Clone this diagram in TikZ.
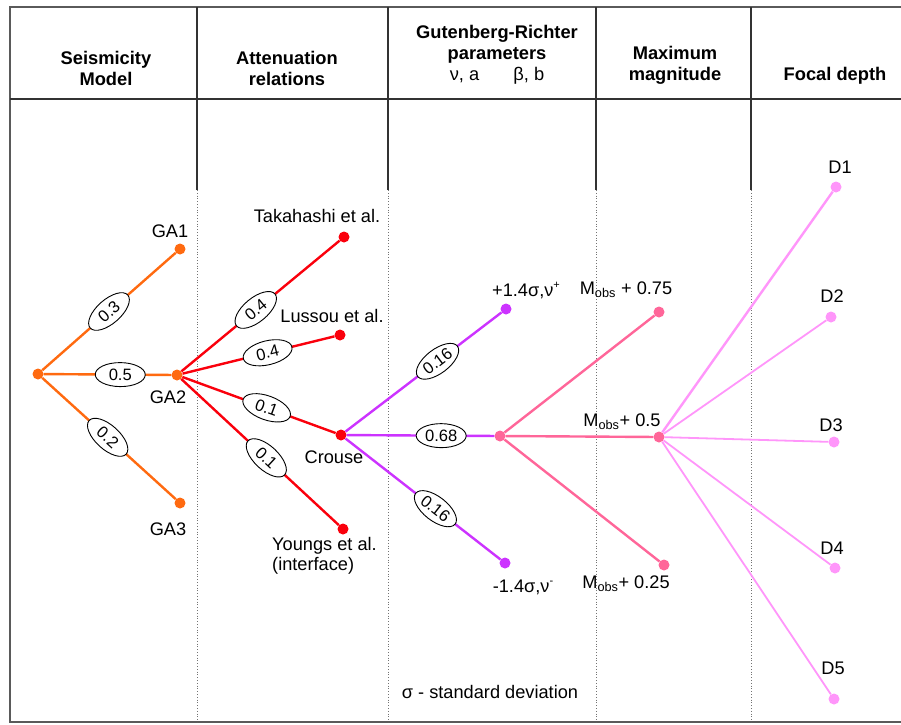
\documentclass[tikz,border=0pt]{standalone}
\usepackage{fontspec}
\setmainfont{Liberation Sans}
\usetikzlibrary{shapes.geometric, positioning}

\definecolor{cOrange}{RGB}{255, 106, 16}
\definecolor{cRed}{RGB}{250, 0, 12}
\definecolor{cPurple}{RGB}{204, 51, 255}
\definecolor{cPink}{RGB}{255, 102, 153}
\definecolor{cLight}{RGB}{255, 150, 250}
\definecolor{cFrame}{RGB}{90, 90, 90}
\definecolor{cGrid}{RGB}{50, 50, 50}

\newcommand{\supmark}[1]{\raisebox{8pt}{\fontsize{11}{11}\selectfont #1}}

\tikzset{
    % --- frame and columns ---
    frameLine/.style={draw=cFrame, line width=1.6pt},
    colLine/.style={draw=cGrid, line width=1.1pt},
    colDotted/.style={draw=black!55, line width=0.8pt, dash pattern=on 0.8pt off 2pt},
    styleHead/.style={align=center, inner sep=0pt, font=\fontsize{18.3}{21}\selectfont\bfseries},
    % --- tree ---
    styleDot/.style={circle, inner sep=0pt, minimum size=11pt},
    styleLabel/.style={inner sep=0pt, font=\fontsize{18.2}{20}\selectfont},
    styleProb/.style={
        ellipse, draw=black, fill=white, line width=0.9pt, inner sep=0pt,
        minimum width=50pt, minimum height=24pt,
        font=\fontsize{16.5}{17}\selectfont
    },
    conn/.style={line width=2.4pt},
    connThin/.style={line width=1.8pt}
}

\begin{document}
\begin{tikzpicture}[x=1pt, y=-1pt]
    \useasboundingbox (0,0) rectangle (901,724);

    % =========================================================
    % frame and column headers
    % =========================================================
    \draw[frameLine] (901,7) -- (10,7) -- (10,722) -- (901,722);
    \draw[colLine] (10,99) -- (901,99);
    \foreach \x in {197, 388, 596, 751} {
        \draw[colLine] (\x,7) -- (\x,190);
        \draw[colDotted] (\x,190) -- (\x,722);
    }

    \node[styleHead] (headSeis) at (106,68) {Seismicity\\Model};
    \node[styleHead] (headAtt) at (287,68) {Attenuation\\relations};
    \node[styleHead] (headGR) at (497,55) {Gutenberg-Richter\\parameters\\{\mdseries ν, a\hspace{34pt}β, b}};
    \node[styleHead] (headMax) at (675,65) {Maximum\\magnitude};
    \node[styleHead] (headFocal) at (835,76) {Focal depth};

    % =========================================================
    % tree nodes
    % =========================================================
    \node[styleDot, fill=cOrange] (root) at (38,374) {};
    \node[styleDot, fill=cOrange] (ga1) at (180,249) {};
    \node[styleDot, fill=cOrange] (ga2) at (177,375) {};
    \node[styleDot, fill=cOrange] (ga3) at (180,503) {};

    \node[styleDot, fill=cRed] (tak) at (344,237) {};
    \node[styleDot, fill=cRed] (lus) at (340,335) {};
    \node[styleDot, fill=cRed] (crouse) at (341,435) {};
    \node[styleDot, fill=cRed] (youngs) at (343,529) {};

    \node[styleDot, fill=cPurple] (grPlus) at (506,309) {};
    \node[styleDot, fill=cPink] (grMid) at (500,436) {};
    \node[styleDot, fill=cPurple] (grMinus) at (505,563) {};

    \node[styleDot, fill=cPink] (mag75) at (659,312) {};
    \node[styleDot, fill=cPink] (mag50) at (659,437) {};
    \node[styleDot, fill=cPink] (mag25) at (664,565) {};

    \node[styleDot, fill=cLight] (d1) at (836,187) {};
    \node[styleDot, fill=cLight] (d2) at (831,317) {};
    \node[styleDot, fill=cLight] (d3) at (834,442) {};
    \node[styleDot, fill=cLight] (d4) at (835,568) {};
    \node[styleDot, fill=cLight] (d5) at (834,699) {};

    % labels
    \node[styleLabel] (labGA1) at (170,231) {GA1};
    \node[styleLabel] (labGA2) at (168,397) {GA2};
    \node[styleLabel] (labGA3) at (168,529) {GA3};
    \node[styleLabel] (labTak) at (317,216) {Takahashi et al.};
    \node[styleLabel] (labLus) at (332,316) {Lussou et al.};
    \node[styleLabel] (labCrouse) at (334,457) {Crouse};
    \node[styleLabel, align=left, anchor=west] (labYoungs) at (272,556) {Youngs et al.\\(interface)};
    \node[styleLabel, anchor=base] (labPlus) at (526,296) {+1.4σ,ν\supmark{+}};
    \node[styleLabel, anchor=base] (labMinus) at (523,592) {-1.4σ,ν\supmark{-}};
    \node[styleLabel] (labM75) at (626,290) {M\textsubscript{obs} + 0.75};
    \node[styleLabel] (labM50) at (622,422) {M\textsubscript{obs}+ 0.5};
    \node[styleLabel] (labM25) at (626,584) {M\textsubscript{obs}+ 0.25};
    \node[styleLabel] (labD1) at (840,167) {D1};
    \node[styleLabel] (labD2) at (832,296) {D2};
    \node[styleLabel] (labD3) at (831,425) {D3};
    \node[styleLabel] (labD4) at (832,548) {D4};
    \node[styleLabel] (labD5) at (833,668) {D5};
    \node[styleLabel] (sigmaNote) at (490,692) {σ - standard deviation};

    % =========================================================
    % branches
    % =========================================================
    \draw[conn, draw=cOrange] (root) -- node[styleProb, sloped, pos=0.5] {0.3} (ga1);
    \draw[conn, draw=cOrange] (root) -- node[styleProb, sloped, pos=0.6] {0.5} (ga2);
    \draw[conn, draw=cOrange] (root) -- node[styleProb, sloped, pos=0.49] {0.2} (ga3);

    \draw[conn, draw=cRed] (ga2) -- node[styleProb, sloped, pos=0.47] {0.4} (tak);
    \draw[conn, draw=cRed] (ga2) -- node[styleProb, sloped, pos=0.56] {0.4} (lus);
    \draw[conn, draw=cRed] (ga2) -- node[styleProb, sloped, pos=0.55] {0.1} (crouse);
    \draw[conn, draw=cRed] (ga2) -- node[styleProb, sloped, pos=0.54] {0.1} (youngs);

    \draw[conn, draw=cPurple] (crouse) -- node[styleProb, sloped, pos=0.59] {0.16} (grPlus);
    \draw[conn, draw=cPurple] (crouse) -- node[styleProb, sloped, pos=0.64] {0.68} (grMid);
    \draw[conn, draw=cPurple] (crouse) -- node[styleProb, sloped, pos=0.58] {0.16} (grMinus);

    \draw[conn, draw=cPink] (grMid) -- (mag75);
    \draw[conn, draw=cPink] (grMid) -- (mag50);
    \draw[conn, draw=cPink] (grMid) -- (mag25);

    \draw[conn, draw=cLight] (mag50) -- (d1);
    \foreach \d in {d2, d3, d4, d5}
        \draw[connThin, draw=cLight] (mag50) -- (\d);

\end{tikzpicture}
\end{document}
